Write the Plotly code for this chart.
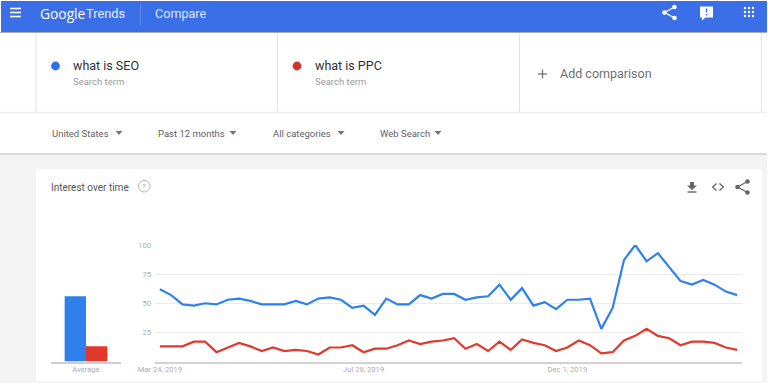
import plotly.graph_objects as go
from datetime import date, timedelta

W, H = 768, 383
start_date = date(2019, 3, 24)
seo_values = [62, 57, 49, 48, 50, 49, 53, 54, 52, 49, 49, 49, 52, 49, 54, 55, 53, 46, 48, 40,
              54, 49, 49, 57, 54, 58, 58, 53, 55, 56, 66, 53, 63, 48, 51, 45, 53, 53, 54, 28,
              46, 87, 100, 86, 93, 81, 69, 66, 70, 66, 60, 57]
ppc_values = [13, 13, 13, 17, 17, 8, 12, 16, 13, 9, 12, 9, 10, 9, 6, 12, 12, 14, 8, 11,
              11, 14, 18, 15, 17, 18, 20, 11, 15, 9, 17, 10, 19, 16, 14, 9, 12, 18, 14, 7,
              8, 18, 22, 28, 22, 20, 14, 17, 17, 16, 12, 10]
avg_values = {"what is SEO": 56, "what is PPC": 13}
tick_dates = ["2019-03-24", "2019-07-28", "2019-12-01"]
tick_labels = ["Mar 24, 2019", "Jul 28, 2019", "Dec 1, 2019"]
y_ticks = [25, 50, 75, 100]

BLUE, RED = "#2f80ed", "#e2392d"
dates = [(start_date + timedelta(days=7 * i)).isoformat() for i in range(len(seo_values))]
px_per_day = (736 - 161) / (51 * 7)
x0 = (start_date - timedelta(days=(161 - 155) / px_per_day)).isoformat()
x1 = (start_date + timedelta(days=(742 - 161) / px_per_day)).isoformat()

px = lambda x: x / W
py = lambda y: 1 - y / H

fig = go.Figure()
for name, vals, col in [("what is SEO", seo_values, BLUE), ("what is PPC", ppc_values, RED)]:
    fig.add_trace(go.Scatter(x=dates, y=vals, mode="lines", name=name,
                             line=dict(color=col, width=2.2), xaxis="x", yaxis="y"))
for (name, val), col in zip(avg_values.items(), [BLUE, RED]):
    fig.add_trace(go.Bar(x=["Average"], y=[val], name=name, marker=dict(color=col, line_width=0),
                         xaxis="x2", yaxis="y2"))

shapes, notes = [], []

def rect(x0, y0, x1, y1, c):
    shapes.append(dict(type="rect", xref="paper", yref="paper", x0=px(x0), x1=px(x1),
                       y0=py(y1), y1=py(y0), fillcolor=c, line_width=0, layer="below"))

def line(x0, y0, x1, y1, c, w=1):
    shapes.append(dict(type="line", xref="paper", yref="paper", x0=px(x0), x1=px(x1),
                       y0=py(y0), y1=py(y1), line=dict(color=c, width=w), layer="below"))

def dot(cx, cy, r, c):
    shapes.append(dict(type="circle", xref="paper", yref="paper", x0=px(cx - r), x1=px(cx + r),
                       y0=py(cy + r), y1=py(cy - r), fillcolor=c, line_width=0, layer="below"))

def tri(cx, cy, c="#757575"):
    shapes.append(dict(type="path", xref="paper", yref="paper", fillcolor=c, line_width=0, layer="below",
                       path=f"M{px(cx-3.5)},{py(cy-2)} L{px(cx+3.5)},{py(cy-2)} L{px(cx)},{py(cy+2)} Z"))

def text(x, y, s, size, c, font="Roboto", anchor="left"):
    notes.append(dict(xref="paper", yref="paper", x=px(x), y=py(y), text=s, showarrow=False,
                      xanchor=anchor, yanchor="middle", font=dict(family=font, size=size, color=c),
                      borderpad=0, borderwidth=0))

def share(cx, cy, c, s=1.0):
    a, b, d = (cx - 5.5 * s, cy), (cx + 4.5 * s, cy - 5.5 * s), (cx + 4.5 * s, cy + 5.5 * s)
    line(b[0], b[1], a[0], a[1], c, 1.4)
    line(a[0], a[1], d[0], d[1], c, 1.4)
    for p in (a, b, d):
        dot(p[0], p[1], 2.3 * s, c)

# page panels
rect(0, 155, 767, 383, "#f4f4f4")
rect(36, 169, 762, 381, "#ffffff")
rect(1, 1, 767, 32, "#3a6fe8")
line(0, 32.5, 767, 32.5, "#a9a9a9", 1)
line(0, 112.5, 767, 112.5, "#eeeeee", 1.5)
line(0, 154, 767, 154, "#cccccc", 1.5)
for x in (36, 277.5, 519.5, 761.5):
    line(x, 33, x, 112, "#e3e3e3", 1)
line(140.5, 4, 140.5, 25, "#5b88ec", 1)

# header
for y in (8.5, 12.5, 16.5):
    line(10, y, 21, y, "#ffffff", 1.6)
text(40, 13, "Google", 13.8, "#ffffff", "Open Sans")
text(86, 13, "Trends", 12.8, "#e8eefc", "Roboto")
text(155, 13, "Compare", 12.6, "#dce6fb", "Roboto")
share(670, 12.5, "#ffffff")
rect(700, 6.5, 713, 17.5, "#ffffff")
shapes.append(dict(type="path", xref="paper", yref="paper", fillcolor="#ffffff", line_width=0, layer="below",
                   path=f"M{px(702)},{py(17)} L{px(706)},{py(17)} L{px(702)},{py(20.5)} Z"))
line(706.5, 8.5, 706.5, 12.5, "#3a6fe8", 1.4)
line(706.5, 14, 706.5, 15.5, "#3a6fe8", 1.4)
for gx in (745, 749, 753):
    for gy in (8, 12, 16):
        dot(gx, gy, 1.2, "#ffffff")

# search terms
dot(55.5, 66, 4.4, "#2f6fe8")
text(73, 66, "what is SEO", 12.5, "#303030")
text(73, 81, "Search term", 9.5, "#9a9a9a")
dot(297, 66, 4.4, "#d0352b")
text(314.5, 66, "what is PPC", 12.5, "#303030")
text(314.5, 81, "Search term", 9.5, "#9a9a9a")
line(538, 74, 547, 74, "#757575", 1.3)
line(542.5, 69.5, 542.5, 78.5, "#757575", 1.3)
text(560, 74, "Add comparison", 12.5, "#6f6f6f")

# filters
for x, s, tx in [(52, "United States", 119), (157.5, "Past 12 months", 233),
                 (273, "All categories", 341), (379.5, "Web Search", 438)]:
    text(x, 133, s, 9.5, "#5f5f5f")
    tri(tx, 133)

# card header
text(51, 187, "Interest over time", 10, "#555555")
shapes.append(dict(type="circle", xref="paper", yref="paper", x0=px(138.5), x1=px(150), y0=py(192),
                   y1=py(180.5), line=dict(color="#b5b5b5", width=1), layer="below"))
text(144.3, 186.3, "?", 8, "#a5a5a5", anchor="center")
# download
shapes.append(dict(type="path", xref="paper", yref="paper", fillcolor="#666666", line_width=0, layer="below",
                   path=(f"M{px(690)},{py(182)} L{px(694)},{py(182)} L{px(694)},{py(185.5)} L{px(697)},{py(185.5)} "
                         f"L{px(692)},{py(190)} L{px(687)},{py(185.5)} L{px(690)},{py(185.5)} Z")))
line(687.5, 192, 696.5, 192, "#666666", 1.4)
# embed
for p in ([(716.5, 183.5), (712.5, 187), (716.5, 190.5)], [(719.5, 183.5), (723.5, 187), (719.5, 190.5)]):
    line(p[0][0], p[0][1], p[1][0], p[1][1], "#666666", 1.3)
    line(p[1][0], p[1][1], p[2][0], p[2][1], "#666666", 1.3)
share(743, 187, "#666666")

axis_font = dict(family="Roboto", size=7.6, color="#adadad")
y_dom = [py(361.5), py(245)]
fig.update_layout(
    width=W, height=H, autosize=False, margin=dict(l=0, r=0, t=0, b=0, pad=0, autoexpand=False),
    paper_bgcolor="#ffffff", plot_bgcolor="rgba(0,0,0,0)", showlegend=False,
    barmode="group", bargap=0.39, bargroupgap=0, shapes=shapes, annotations=notes,
    xaxis=dict(type="date", domain=[px(155), px(742)], range=[x0, x1], tickvals=tick_dates,
               ticktext=tick_labels, tickfont=axis_font, showgrid=False, showline=True,
               linecolor="#d2d2d2", linewidth=1.5, ticks="", ticklen=0, anchor="y", zeroline=False,
               automargin=False),
    yaxis=dict(domain=y_dom, range=[0, 100], tickvals=y_ticks, tickfont=axis_font, showgrid=True,
               gridcolor="#ebebeb", gridwidth=1, zeroline=False, showline=False, ticks="", anchor="x",
               automargin=False, ticklabelstandoff=3),
    xaxis2=dict(type="category", domain=[px(51), px(121)], tickfont=axis_font, showgrid=False,
                showline=True, linecolor="#cfcfcf", linewidth=1.5, ticks="", anchor="y2",
                automargin=False),
    yaxis2=dict(domain=y_dom, range=[0, 100], visible=False, anchor="x2"),
)
fig.write_html("out.html", config={"displayModeBar": False},
               post_script="document.body.style.margin='0';document.documentElement.style.overflow='hidden';")
